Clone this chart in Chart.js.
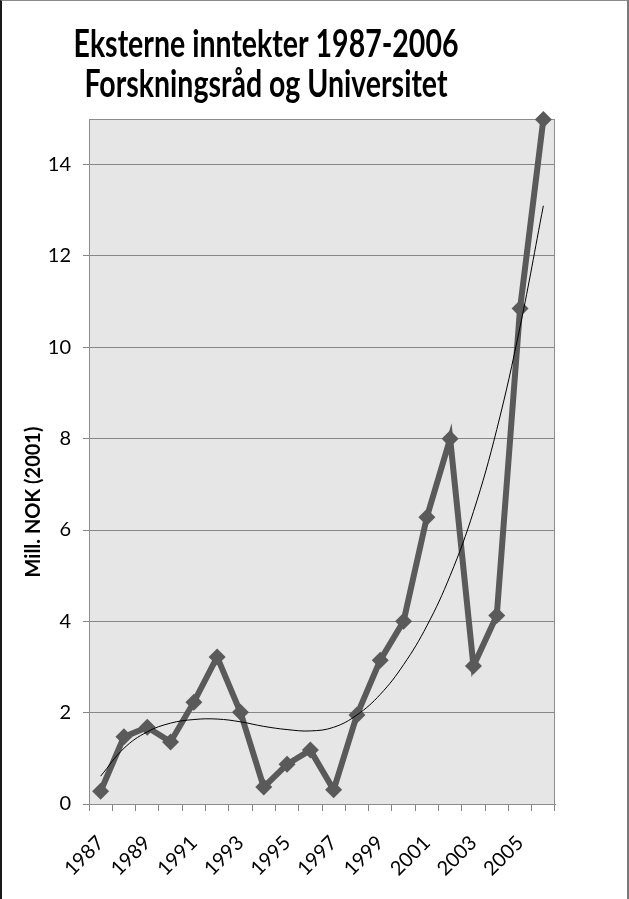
<!DOCTYPE html>
<html lang="no">
<head>
<meta charset="utf-8">
<title>Eksterne inntekter 1987-2006</title>
<script src="https://cdn.jsdelivr.net/npm/chart.js@4.4.1/dist/chart.umd.min.js"></script>
<style>
  html, body { margin: 0; padding: 0; background: #fff; }
  #ramme { position: relative; width: 629px; height: 899px; }
  #ramme::after {
    content: ''; position: absolute; inset: 0; pointer-events: none;
    border-left: 2px solid #1a1a1a; border-top: 1px solid #8a8a8a; border-right: 2px solid #7a7a7a;
  }
  canvas { display: block; }
</style>
</head>
<body>
<div id="ramme"><canvas id="inntektCanvas" width="629" height="899"></canvas></div>
<script>
/* ========= DATA ========= */

const aar = [
  '1987', '1988', '1989', '1990', '1991', '1992', '1993', '1994', '1995', '1996',
  '1997', '1998', '1999', '2000', '2001', '2002', '2003', '2004', '2005', '2006'
];

// Eksterne inntekter, mill. NOK (2001)
const inntekter = [0.28, 1.47, 1.68, 1.36, 2.23, 3.22, 2.01, 0.37, 0.87, 1.18,
                   0.31, 1.95, 3.15, 4.0, 6.28, 8.0, 3.02, 4.13, 10.85, 14.99];

// Trendlinje
const trend = [0.61, 1.22, 1.58, 1.77, 1.85, 1.86, 1.8, 1.7, 1.63, 1.6,
               1.68, 1.95, 2.4, 3.05, 3.9, 5.0, 6.4, 8.2, 10.45, 13.1];

const yTicks = [0, 2, 4, 6, 8, 10, 12, 14];

const tittel = ['Eksterne inntekter 1987-2006', 'Forskningsråd og Universitet'];
const yTittel = 'Mill. NOK (2001)';

/* ========= PLUGINS ========= */

// Grå bakgrunn og ramme rundt plottet
const plotBakgrunn = {
  id: 'plotBakgrunn',
  beforeDraw(chart) {
    const { ctx, chartArea: a } = chart;
    ctx.save();
    ctx.fillStyle = '#e6e6e6';
    ctx.fillRect(a.left, a.top, a.right - a.left, a.bottom - a.top);
    ctx.restore();
  },
  beforeDatasetsDraw(chart) {
    const { ctx, chartArea: a } = chart;
    ctx.save();
    ctx.strokeStyle = '#8c8c8c';
    ctx.lineWidth = 1;
    ctx.strokeRect(a.left + 0.5, a.top + 0.5, a.right - a.left - 1, a.bottom - a.top);
    ctx.restore();
  }
};

// Tittel og aksetittel
const tekster = {
  id: 'tekster',
  afterDraw(chart) {
    const ctx = chart.ctx;
    ctx.save();
    ctx.fillStyle = '#000';
    ctx.textAlign = 'center';
    ctx.font = 'bold 28.5px Lato';
    [57, 97].forEach((y, i) => {
      ctx.save();
      ctx.translate(266, y);
      ctx.scale(1, 1.36);
      ctx.fillText(tittel[i], 0, 0);
      ctx.restore();
    });
    ctx.font = 'bold 20px Lato';
    ctx.translate(40, 502);
    ctx.rotate(-Math.PI / 2);
    ctx.fillText(yTittel, 0, 0);
    ctx.restore();
  }
};

/* ========= GRAF ========= */

function tegnGraf() {
  const ctx = document.getElementById('inntektCanvas').getContext('2d');
  const gridFarge = '#868686';

  new Chart(ctx, {
    type: 'line',
    data: {
      labels: aar,
      datasets: [
        {
          label: 'Trend',
          data: trend,
          order: 0,
          borderColor: '#000',
          borderWidth: 1,
          pointRadius: 0,
          tension: 0.4,
          clip: false
        },
        {
          label: 'Eksterne inntekter',
          data: inntekter,
          order: 1,
          borderColor: '#5a5a5a',
          backgroundColor: '#5a5a5a',
          borderWidth: 6,
          pointStyle: 'rectRot',
          pointRadius: 8.5,
          pointBorderWidth: 0,
          tension: 0,
          clip: false
        }
      ]
    },
    options: {
      responsive: false,
      animation: false,
      layout: { padding: { left: 39, right: 74, top: 119, bottom: 0 } },
      plugins: {
        legend: { display: false },
        tooltip: { enabled: false },
        title: { display: false }
      },
      scales: {
        x: {
          offset: true,
          grid: { offset: true, drawOnChartArea: false, drawTicks: true, tickLength: 7, color: gridFarge },
          border: { color: gridFarge },
          ticks: {
            autoSkip: false,
            maxRotation: 45,
            minRotation: 45,
            padding: 20,
            color: '#000',
            font: { family: 'Lato', size: 20 },
            callback: (v, i) => (i % 2 === 0 ? aar[i] : '')
          },
          afterFit: s => { s.height = 95; }
        },
        y: {
          min: 0,
          max: 15,
          afterBuildTicks: s => { s.ticks = yTicks.map(v => ({ value: v })); },
          grid: { color: gridFarge, tickLength: 6 },
          border: { color: gridFarge },
          ticks: { padding: 12, color: '#000', font: { family: 'Lato', size: 20 } },
          afterFit: s => { s.width = 50; }
        }
      }
    },
    plugins: [plotBakgrunn, tekster]
  });
}

document.addEventListener('DOMContentLoaded', tegnGraf);
</script>
</body>
</html>
